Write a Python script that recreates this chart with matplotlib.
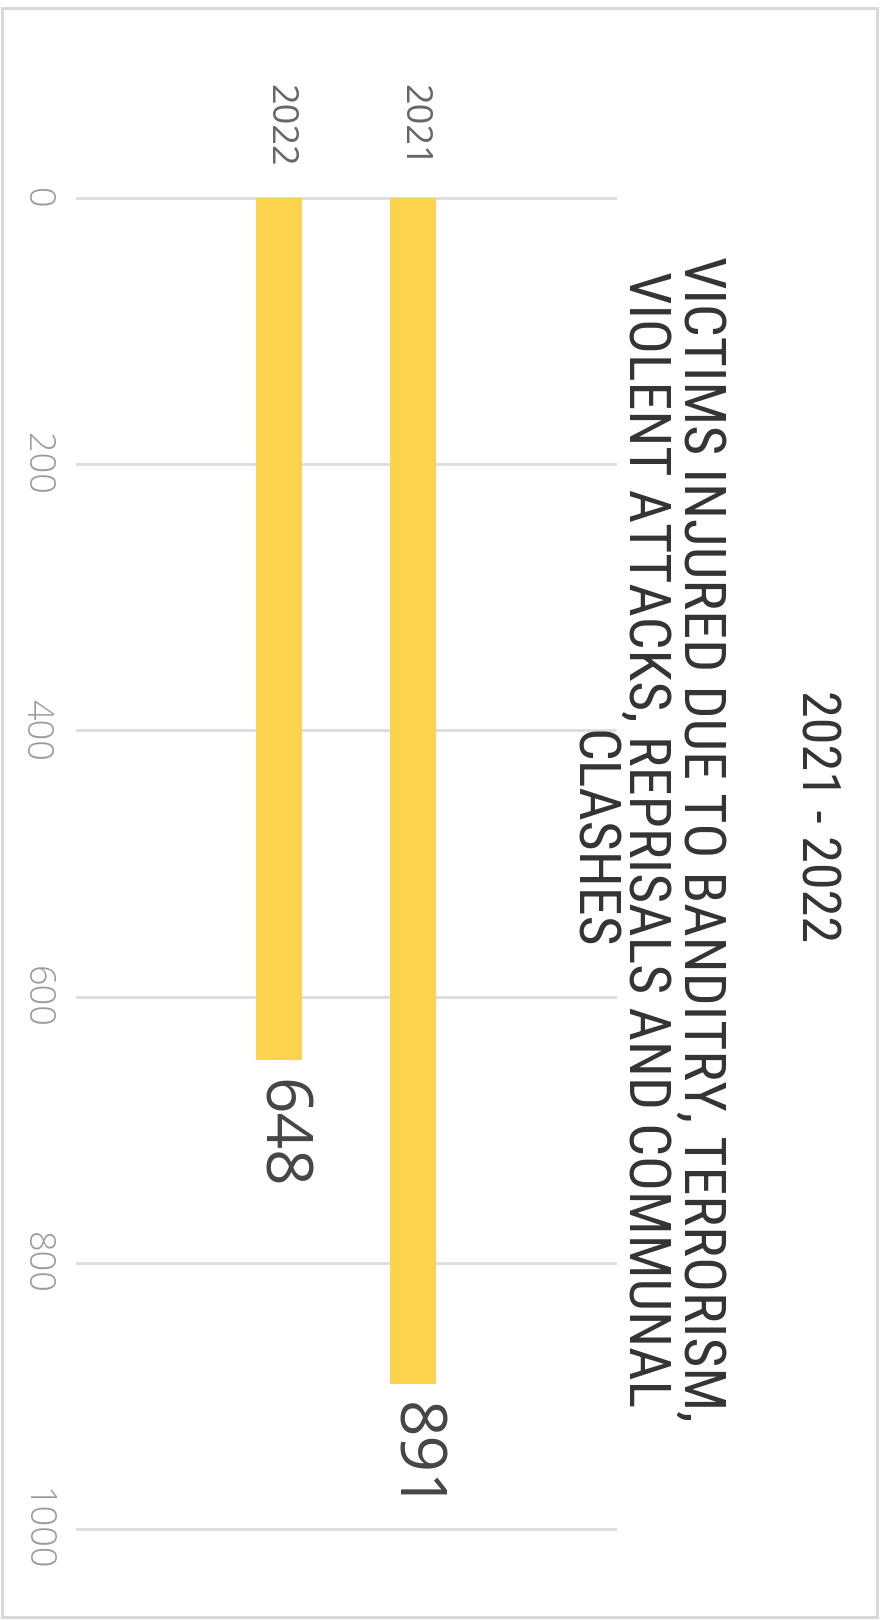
import matplotlib
matplotlib.use('Agg')
import matplotlib.pyplot as plt
from matplotlib import font_manager
from matplotlib.patches import Rectangle

# data
years = ['2022', '2021']
injured = [648, 891]
value_ticks = [0, 200, 400, 600, 800, 1000]
title = '2021 - 2022'
subtitle = ('VICTIMS INJURED DUE TO BANDITRY, TERRORISM,\n'
            'VIOLENT ATTACKS, REPRISALS AND COMMUNAL\n'
            'CLASHES')

# pick a condensed face for the headings if one is installed
installed = {f.name for f in font_manager.fontManager.ttflist}
head_font = 'DejaVu Sans'
head_scale = 0.8
for name, sc in [('Liberation Sans Narrow', 1.0), ('Roboto Condensed', 0.95),
                 ('Open Sans Condensed', 0.95), ('Roboto', 0.82)]:
    if name in installed:
        head_font, head_scale = name, sc
        break
num_font = 'Open Sans' if 'Open Sans' in installed else 'DejaVu Sans'

W, H = 881, 1620
fig = plt.figure(figsize=(W / 100, H / 100), dpi=100)
fig.patch.set_facecolor('white')

# axes placed in pixels: grid from x=77..615, value 0 at y=198, 1000 at y=1529
left, right, top, bottom = 77, 615, 198, 1529
ax = fig.add_axes([left / W, 1 - bottom / H, (right - left) / W, (bottom - top) / H])

pos = list(range(len(years)))
ax.bar(pos, injured, width=0.343, color='#FDD34D', zorder=2)

ax.set_xlim(-1.507, 2.507)
ax.set_ylim(1000, 0)
ax.set_yticks(value_ticks)
ax.set_yticklabels([str(v) for v in value_ticks])
ax.yaxis.grid(True, color='#dcdcdc', lw=2, zorder=1)
for gl in ax.get_ygridlines():
    gl.set_clip_on(False)
for s in ax.spines.values():
    s.set_visible(False)

ax.tick_params(axis='y', length=0, pad=29.5, labelsize=26, labelcolor='#9a9a9a')
for lab in ax.get_yticklabels():
    lab.set_rotation(-90)
    lab.set_ha('center')
    lab.set_va('center')
    lab.set_fontfamily(num_font)
    lab.set_fontweight('light')

ax.xaxis.tick_top()
ax.set_xticks(pos)
ax.set_xticklabels(years)
ax.tick_params(axis='x', length=0, pad=22.5, labelsize=26, labelcolor='#666666')
for lab in ax.get_xticklabels():
    lab.set_rotation(-90)
    lab.set_ha('center')
    lab.set_va('bottom')
    lab.set_fontfamily(num_font)

# value labels below the bar ends
for p, v in zip(pos, injured):
    ax.annotate(str(v), (p, v), xytext=(0, -13), textcoords='offset points',
                rotation=-90, ha='center', va='top', fontsize=46,
                color='#454545', family=num_font)

# headings, rotated like the rest of the chart
fig.text(816 / W, 1 - 816 / H, title, rotation=-90, ha='center', va='center',
         fontsize=41 * head_scale, color='#333333', family=head_font)
fig.text(645 / W, 1 - 839 / H, subtitle, rotation=-90, ha='center', va='center',
         multialignment='center', linespacing=1.0,
         fontsize=44 * head_scale, color='#333333', family=head_font)

# light frame round the picture
fig.patches.append(Rectangle((1.5 / W, 1 - 1617 / H), 875 / W, 1609 / H,
                             transform=fig.transFigure, fill=False,
                             edgecolor='#d6d6d6', lw=2))

fig.savefig('out.png', dpi=100)
